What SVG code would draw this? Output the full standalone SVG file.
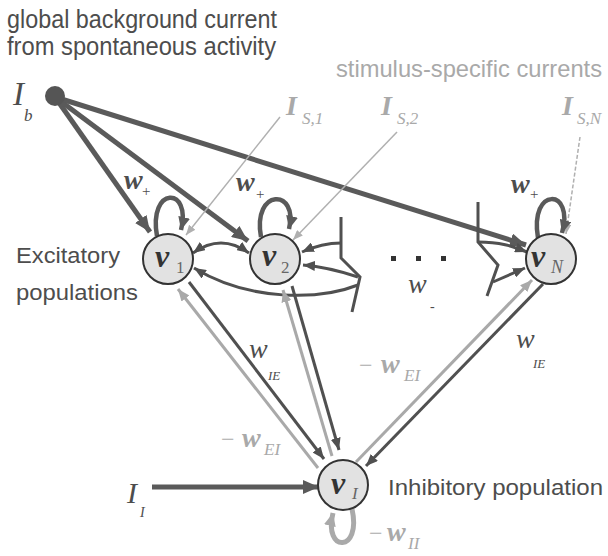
<svg xmlns="http://www.w3.org/2000/svg" width="608" height="556" viewBox="0 0 608 556">
<style>
.sans{font-family:"Liberation Sans",Arial,sans-serif}
.serif{font-family:"Liberation Serif","Times New Roman",serif}
.dk{fill:#4d4d4d}
.lt{fill:#a9a9a9}
.it{font-style:italic}
.bi{font-style:italic;font-weight:bold}
.node{fill:#e2e2e2;stroke:#333;stroke-width:2}
.thick{fill:none;stroke:#5a5a5a;stroke-width:5}
.loop{fill:none;stroke:#5a5a5a;stroke-width:4.5}
.dl{fill:none;stroke:#505050;stroke-width:3}
.ll{fill:none;stroke:#a9a9a9;stroke-width:3}
.sl{fill:none;stroke:#b0b0b0;stroke-width:1.5}
</style>
<defs>
<marker id="aBig" markerUnits="userSpaceOnUse" markerWidth="16" markerHeight="14" refX="16" refY="7" orient="auto"><path d="M0,0 L16,7 L0,14 z" fill="#5a5a5a"/></marker>
<marker id="aLoop" markerUnits="userSpaceOnUse" markerWidth="13" markerHeight="12" refX="13" refY="6" orient="auto"><path d="M0,0 L13,6 L0,12 z" fill="#5a5a5a"/></marker>
<marker id="aDk" markerUnits="userSpaceOnUse" markerWidth="12" markerHeight="10" refX="12" refY="5" orient="auto-start-reverse"><path d="M0,0 L12,5 L0,10 z" fill="#505050"/></marker>
<marker id="aLt" markerUnits="userSpaceOnUse" markerWidth="12" markerHeight="10" refX="12" refY="5" orient="auto"><path d="M0,0 L12,5 L0,10 z" fill="#a9a9a9"/></marker>
<marker id="aLtLoop" markerUnits="userSpaceOnUse" markerWidth="13" markerHeight="12" refX="13" refY="6" orient="auto"><path d="M0,0 L13,6 L0,12 z" fill="#a9a9a9"/></marker>
<marker id="aS" markerUnits="userSpaceOnUse" markerWidth="10" markerHeight="8" refX="10" refY="4" orient="auto"><path d="M0,0 L10,4 L0,8 z" fill="#b0b0b0"/></marker>
</defs>
<rect width="608" height="556" fill="#fff"/>

<g id="captions" class="sans">
<text x="7" y="28" font-size="25" class="dk" textLength="270" lengthAdjust="spacingAndGlyphs">global background current</text>
<text x="7" y="55" font-size="25" class="dk" textLength="269" lengthAdjust="spacingAndGlyphs">from spontaneous activity</text>
<text x="336" y="77" font-size="24" class="lt" textLength="266" lengthAdjust="spacingAndGlyphs">stimulus-specific currents</text>
<text x="16" y="263" font-size="22" class="dk" textLength="104" lengthAdjust="spacingAndGlyphs">Excitatory</text>
<text x="16" y="300" font-size="22" class="dk" textLength="122" lengthAdjust="spacingAndGlyphs">populations</text>
<text x="388" y="495" font-size="22" class="dk" textLength="215" lengthAdjust="spacingAndGlyphs">Inhibitory population</text>
</g>

<g id="connectors">
<path class="thick" d="M55,97 L150,232" marker-end="url(#aBig)"/>
<path class="thick" d="M55,97 L248,241" marker-end="url(#aBig)"/>
<path class="thick" d="M55,97 L526,245" marker-end="url(#aBig)"/>
<path class="sl" d="M280,117 L186,235" marker-end="url(#aS)"/>
<path class="sl" d="M397,132 L293,240" marker-end="url(#aS)"/>
<path class="sl" d="M580,137 L566,234" stroke-dasharray="4 2" marker-end="url(#aS)"/>
<path class="loop" d="M157,236 C148,186 192,186 181,230" marker-end="url(#aLoop)"/>
<path class="loop" d="M261,237 C252,188 299,188 289,229" marker-end="url(#aLoop)"/>
<path class="loop" d="M538,238 C529,186 575,188 562,233" marker-end="url(#aLoop)"/>
<path class="dl" d="M193,253 Q221,233 249,253" marker-start="url(#aDk)" marker-end="url(#aDk)"/>
<path class="dl" d="M358,285 C320,300 250,302 194,268" marker-end="url(#aDk)"/>
<path class="dl" d="M341,217 V258 L360,277 L352,312"/>
<path class="dl" d="M341,243 Q322,243 302,252" marker-end="url(#aDk)"/>
<path class="dl" d="M358,277 Q328,267 303,265" marker-end="url(#aDk)"/>
<path class="dl" d="M478,202 V242 L498,265 L487,296"/>
<path class="dl" d="M478,242 C500,242 512,246 527,252" marker-end="url(#aDk)"/>
<path class="dl" d="M493,282 L525,268" marker-end="url(#aDk)"/>
<path class="ll" d="M318,468 L178,289" marker-end="url(#aLt)"/>
<path class="dl" d="M189,282 L324,459" marker-end="url(#aDk)"/>
<path class="ll" d="M332,456 L283,290" marker-end="url(#aLt)"/>
<path class="dl" d="M292,286 L339,450" marker-end="url(#aDk)"/>
<path class="ll" d="M356,462 L532,280" marker-end="url(#aLt)"/>
<path class="dl" d="M543,284 L366,466" marker-end="url(#aDk)"/>
<path class="thick" d="M152,487 L319,487" marker-end="url(#aBig)"/>
<path fill="none" stroke="#a9a9a9" stroke-width="5" d="M352,509 C362,553 323,553 333,513" marker-end="url(#aLtLoop)"/>
</g>

<g id="source-b">
<circle cx="55" cy="96" r="10" fill="#555"/>
<text x="13" y="105" font-size="33" class="serif it dk">I</text>
<text x="24" y="121" font-size="17" class="serif it dk">b</text>
</g>

<g id="input-S1" class="serif lt">
<text x="286" y="115" font-size="28" class="bi">I</text>
<text x="302" y="124" font-size="17" class="it">S,1</text>
</g>
<g id="input-S2" class="serif lt">
<text x="381" y="115" font-size="28" class="bi">I</text>
<text x="397" y="124" font-size="17" class="it">S,2</text>
</g>
<g id="input-SN" class="serif lt">
<text x="562" y="115" font-size="28" class="bi">I</text>
<text x="577" y="124" font-size="17" class="it">S,N</text>
</g>

<g id="node-1">
<circle class="node" cx="168" cy="259" r="25"/>
<text x="155" y="267" font-size="32" class="serif bi" fill="#333">ν</text>
<text x="176" y="273" font-size="17" class="serif" fill="#666">1</text>
</g>
<g id="node-2">
<circle class="node" cx="275" cy="259" r="25"/>
<text x="262" y="266" font-size="32" class="serif bi" fill="#333">ν</text>
<text x="281" y="273" font-size="17" class="serif" fill="#666">2</text>
</g>
<g id="node-N">
<circle class="node" cx="551" cy="259" r="25"/>
<text x="531" y="267" font-size="32" class="serif bi" fill="#333">ν</text>
<text x="551" y="273" font-size="18" class="serif it" fill="#666">N</text>
</g>
<g id="node-I">
<circle class="node" cx="343" cy="485" r="25"/>
<text x="331" y="494" font-size="32" class="serif bi" fill="#333">ν</text>
<text x="352" y="499" font-size="17" class="serif it" fill="#666">I</text>
</g>

<g id="input-I" class="serif dk">
<text x="127" y="503" font-size="30" class="it">I</text>
<text x="140" y="517" font-size="14" class="it">I</text>
</g>

<g id="weights" class="serif">
<text x="124" y="189" font-size="28" class="bi dk">w</text>
<text x="142" y="196" font-size="15" class="dk">+</text>
<text x="236" y="191" font-size="28" class="bi dk">w</text>
<text x="256" y="199" font-size="15" class="dk">+</text>
<text x="511" y="193" font-size="28" class="bi dk">w</text>
<text x="530" y="199" font-size="15" class="dk">+</text>
<text x="408" y="293" font-size="28" class="it dk">w</text>
<text x="430" y="311" font-size="14" class="dk">-</text>
<rect x="391" y="256" width="5" height="5" fill="#333"/>
<rect x="416" y="256" width="5" height="5" fill="#333"/>
<rect x="441" y="256" width="5" height="5" fill="#333"/>
<text x="249" y="358" font-size="28" class="it dk">w</text>
<text x="268" y="380" font-size="13" class="it dk">IE</text>
<text x="516" y="348" font-size="28" class="it dk">w</text>
<text x="533" y="368" font-size="13" class="it dk">IE</text>
<text x="359" y="373" font-size="24" class="lt">−</text>
<text x="381" y="373" font-size="28" class="bi lt">w</text>
<text x="404" y="381" font-size="17" class="it lt">EI</text>
<text x="221" y="447" font-size="24" class="lt">−</text>
<text x="242" y="447" font-size="28" class="bi lt">w</text>
<text x="264" y="455" font-size="17" class="it lt">EI</text>
<text x="369" y="541" font-size="24" class="lt">−</text>
<text x="387" y="541" font-size="28" class="bi lt">w</text>
<text x="408" y="549" font-size="17" class="it lt">II</text>
</g>
</svg>
